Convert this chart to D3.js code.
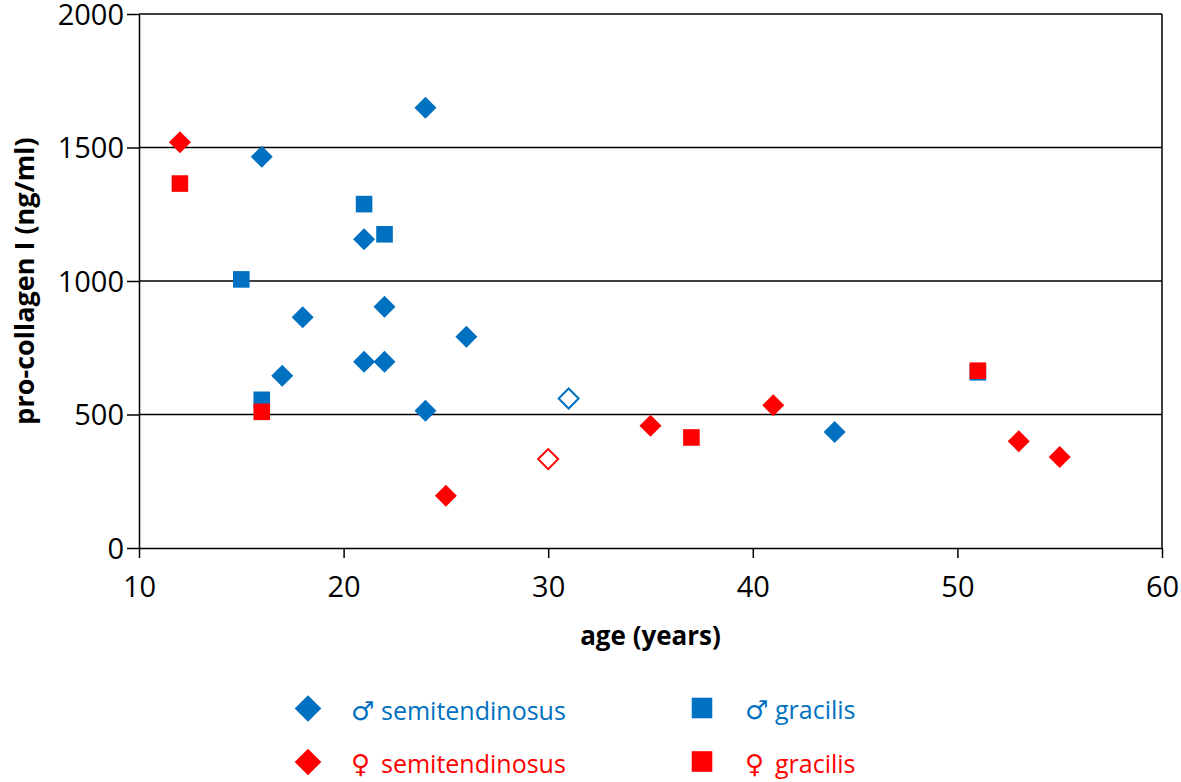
<!DOCTYPE html>
<html>
<head>
<meta charset="utf-8">
<script src="https://cdn.jsdelivr.net/npm/d3@7"></script>
<style>
  html, body { margin: 0; padding: 0; background: #fff; }
  svg { display: block; font-family: "Open Sans", sans-serif; }
</style>
</head>
<body>
<svg id="chart" width="1181" height="782"></svg>
<script>
// ---- data ----
const xTicks = [10, 20, 30, 40, 50, 60];
const yTicks = [0, 500, 1000, 1500, 2000];

// male semitendinosus (filled)
const maleSemiAge = [16, 24, 21, 18, 22, 26, 21, 22, 17, 24, 44];
const maleSemiVal = [1465, 1649, 1156, 864, 904, 791, 698, 698, 645, 514, 434];
// male semitendinosus (open marker)
const maleSemiOpenAge = [31];
const maleSemiOpenVal = [560];
// male gracilis
const maleGracAge = [21, 22, 15, 16, 51];
const maleGracVal = [1288, 1175, 1006, 555, 658];
// female semitendinosus (filled)
const femSemiAge = [12, 25, 35, 41, 53, 55];
const femSemiVal = [1520, 196, 458, 535, 400, 341];
// female semitendinosus (open marker)
const femSemiOpenAge = [30];
const femSemiOpenVal = [333];
// female gracilis
const femGracAge = [12, 16, 37, 51];
const femGracVal = [1365, 510, 414, 664];

const legendSymbols = ["\u2642", "\u2642", "\u2640", "\u2640"];
const legendNames = ["semitendinosus", "gracilis", "semitendinosus", "gracilis"];

// ---- drawing ----
(function () {
const BLUE = "#0070C0", RED = "#FF0000";
const svg = d3.select("#chart");
const pL = 139, pR = 1162, pT = 14, pB = 548;
const x = d3.scaleLinear().domain([10, 60]).range([pL, pR]);
const y = d3.scaleLinear().domain([0, 2000]).range([pB, pT]);

// gridlines
svg.append("g").selectAll("line").data(yTicks.filter(d => d > 0)).join("line")
  .attr("x1", pL).attr("x2", pR)
  .attr("y1", d => y(d)).attr("y2", d => y(d))
  .attr("stroke", "#000").attr("stroke-width", 1.5);

// right border
svg.append("line").attr("x1", pR).attr("x2", pR).attr("y1", pT).attr("y2", pB)
  .attr("stroke", "#000").attr("stroke-width", 1.5);

// y axis
const yAxis = svg.append("g").attr("transform", `translate(${pL},0)`)
  .call(d3.axisLeft(y).tickValues(yTicks).tickFormat(d3.format("d"))
    .tickSize(12).tickPadding(3).tickSizeOuter(0));
// x axis
const xAxis = svg.append("g").attr("transform", `translate(0,${pB})`)
  .call(d3.axisBottom(x).tickValues(xTicks).tickFormat(d3.format("d"))
    .tickSize(10).tickPadding(18).tickSizeOuter(0));

[yAxis, xAxis].forEach(g => {
  g.select(".domain").attr("stroke", "#000").attr("stroke-width", 1.5);
  g.selectAll(".tick line").attr("stroke", "#000").attr("stroke-width", 1.5);
  g.selectAll(".tick text").attr("fill", "#000")
    .style("font-family", "'Open Sans', sans-serif").style("font-size", "29px");
});
yAxis.selectAll(".tick text").attr("dy", "0.36em");
xAxis.selectAll(".tick text").attr("dy", "0.71em");

// axis titles
svg.append("text").attr("x", (pL + pR) / 2).attr("y", 645)
  .attr("text-anchor", "middle").attr("font-weight", "bold").attr("font-size", 26)
  .attr("fill", "#000").text("age (years)");
svg.append("text").attr("transform", `translate(34,${(pT + pB) / 2}) rotate(-90)`)
  .attr("text-anchor", "middle").attr("font-weight", "bold").attr("font-size", 27)
  .attr("fill", "#000").text("pro-collagen I (ng/ml)");

// markers
const diamond = r => `M0,${-r}L${r},0L0,${r}L${-r},0Z`;
const square = s => `M${-s},${-s}H${s}V${s}H${-s}Z`;

function series(ages, vals, color, shapePath, open) {
  const pts = ages.map((a, i) => ({ a, v: vals[i] }));
  svg.append("g").selectAll("path").data(pts).join("path")
    .attr("transform", d => `translate(${x(d.a)},${y(d.v)})`)
    .attr("d", shapePath)
    .attr("fill", open ? "#fff" : color)
    .attr("stroke", open ? color : "none")
    .attr("stroke-width", open ? 2 : 0);
}
series(maleSemiAge, maleSemiVal, BLUE, diamond(11));
series(maleSemiOpenAge, maleSemiOpenVal, BLUE, diamond(10), true);
series(maleGracAge, maleGracVal, BLUE, square(8.3));
series(femSemiAge, femSemiVal, RED, diamond(11));
series(femSemiOpenAge, femSemiOpenVal, RED, diamond(10), true);
series(femGracAge, femGracVal, RED, square(8.3));

// legend
const legendItems = [
  { i: 0, color: BLUE, shape: diamond(13.3), mx: 308, tx: 351, cy: 708.5 },
  { i: 1, color: BLUE, shape: square(10.3), mx: 702, tx: 745, cy: 708 },
  { i: 2, color: RED, shape: diamond(13.3), mx: 308, tx: 351, cy: 762 },
  { i: 3, color: RED, shape: square(10.3), mx: 702, tx: 745, cy: 761.5 }
];
const lg = svg.append("g").selectAll("g").data(legendItems).join("g");
lg.append("path").attr("transform", d => `translate(${d.mx},${d.cy})`)
  .attr("d", d => d.shape).attr("fill", d => d.color);
lg.append("text").attr("x", d => d.tx).attr("y", d => d.cy + 11)
  .attr("font-family", "'DejaVu Sans', sans-serif").attr("font-size", 26)
  .attr("fill", d => d.color).text(d => legendSymbols[d.i]);
lg.append("text").attr("x", d => d.tx + 30).attr("y", d => d.cy + 11)
  .attr("font-size", 25).attr("fill", d => d.color).text(d => legendNames[d.i]);
})();
</script>
</body>
</html>
